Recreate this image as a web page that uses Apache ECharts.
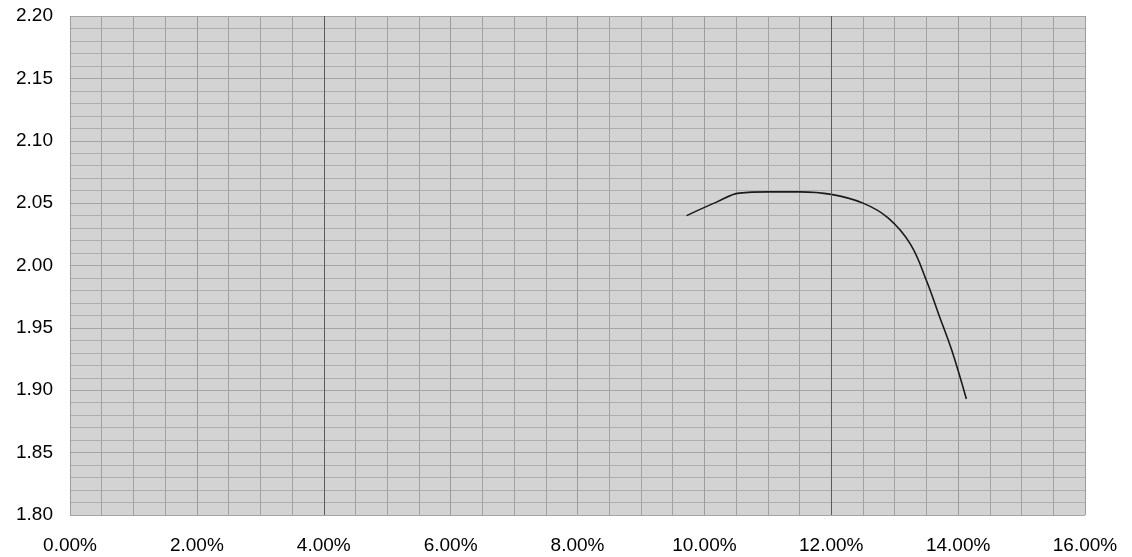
<!DOCTYPE html>
<html>
<head>
<meta charset="utf-8">
<script src="https://cdn.jsdelivr.net/npm/echarts@6/dist/echarts.min.js"></script>
<style>
  html, body { margin: 0; padding: 0; background: #fff; }
  #main { width: 1132px; height: 557px; }
</style>
</head>
<body>
<div id="main"></div>
<script>
// curve (x in %, y value)
var xValues = [9.72, 10.2, 10.55, 11.0, 11.5, 12.0, 12.5, 12.9, 13.25, 13.5, 13.7, 13.9, 14.13];
var yValues = [2.040, 2.051, 2.058, 2.059, 2.059, 2.057, 2.050, 2.038, 2.017, 1.988, 1.960, 1.932, 1.893];
// heavier printed lines on the paper
var heavyLines = [4, 12];

var points = [];
for (var i = 0; i < xValues.length; i++) {
  points.push([xValues[i], yValues[i]]);
}

var myChart = echarts.init(document.getElementById("main"));
myChart.setOption({
  animation: false,
  backgroundColor: "#fff",
  grid: {
    left: 70,
    right: 47,
    top: 16,
    bottom: 42,
    show: true,
    backgroundColor: "#d3d3d3",
    borderWidth: 0
  },
  xAxis: {
    type: "value",
    min: 0,
    max: 16,
    interval: 2,
    axisLine: { show: false },
    axisTick: { show: false },
    axisLabel: {
      margin: 21,
      color: "#000",
      fontSize: 19,
      fontFamily: "Liberation Sans",
      formatter: function (v) { return v.toFixed(2) + "%"; }
    },
    splitLine: { show: true, lineStyle: { color: "#9c9c9c", width: 1 } },
    minorTick: { show: false, splitNumber: 4 },
    minorSplitLine: { show: true, lineStyle: { color: "#a2a2a2", width: 1 } }
  },
  yAxis: {
    type: "value",
    min: 1.8,
    max: 2.2,
    interval: 0.05,
    axisLine: { show: false },
    axisTick: { show: false },
    axisLabel: {
      margin: 17,
      color: "#000",
      fontSize: 19,
      fontFamily: "Liberation Sans",
      formatter: function (v) { return v.toFixed(2); }
    },
    splitLine: { show: true, lineStyle: { color: "#a4a4a4", width: 1 } },
    minorTick: { show: false, splitNumber: 5 },
    minorSplitLine: { show: true, lineStyle: { color: "#afafaf", width: 1 } }
  },
  series: [
    {
      type: "line",
      data: points,
      smooth: 0.4,
      showSymbol: false,
      lineStyle: { color: "#1a1a1a", width: 1.6 },
      markLine: {
        silent: true,
        symbol: "none",
        label: { show: false },
        lineStyle: { color: "#5a5a5a", type: "solid", width: 1 },
        data: heavyLines.map(function (v) { return { xAxis: v }; })
      },
      z: 3
    }
  ]
});
</script>
</body>
</html>
